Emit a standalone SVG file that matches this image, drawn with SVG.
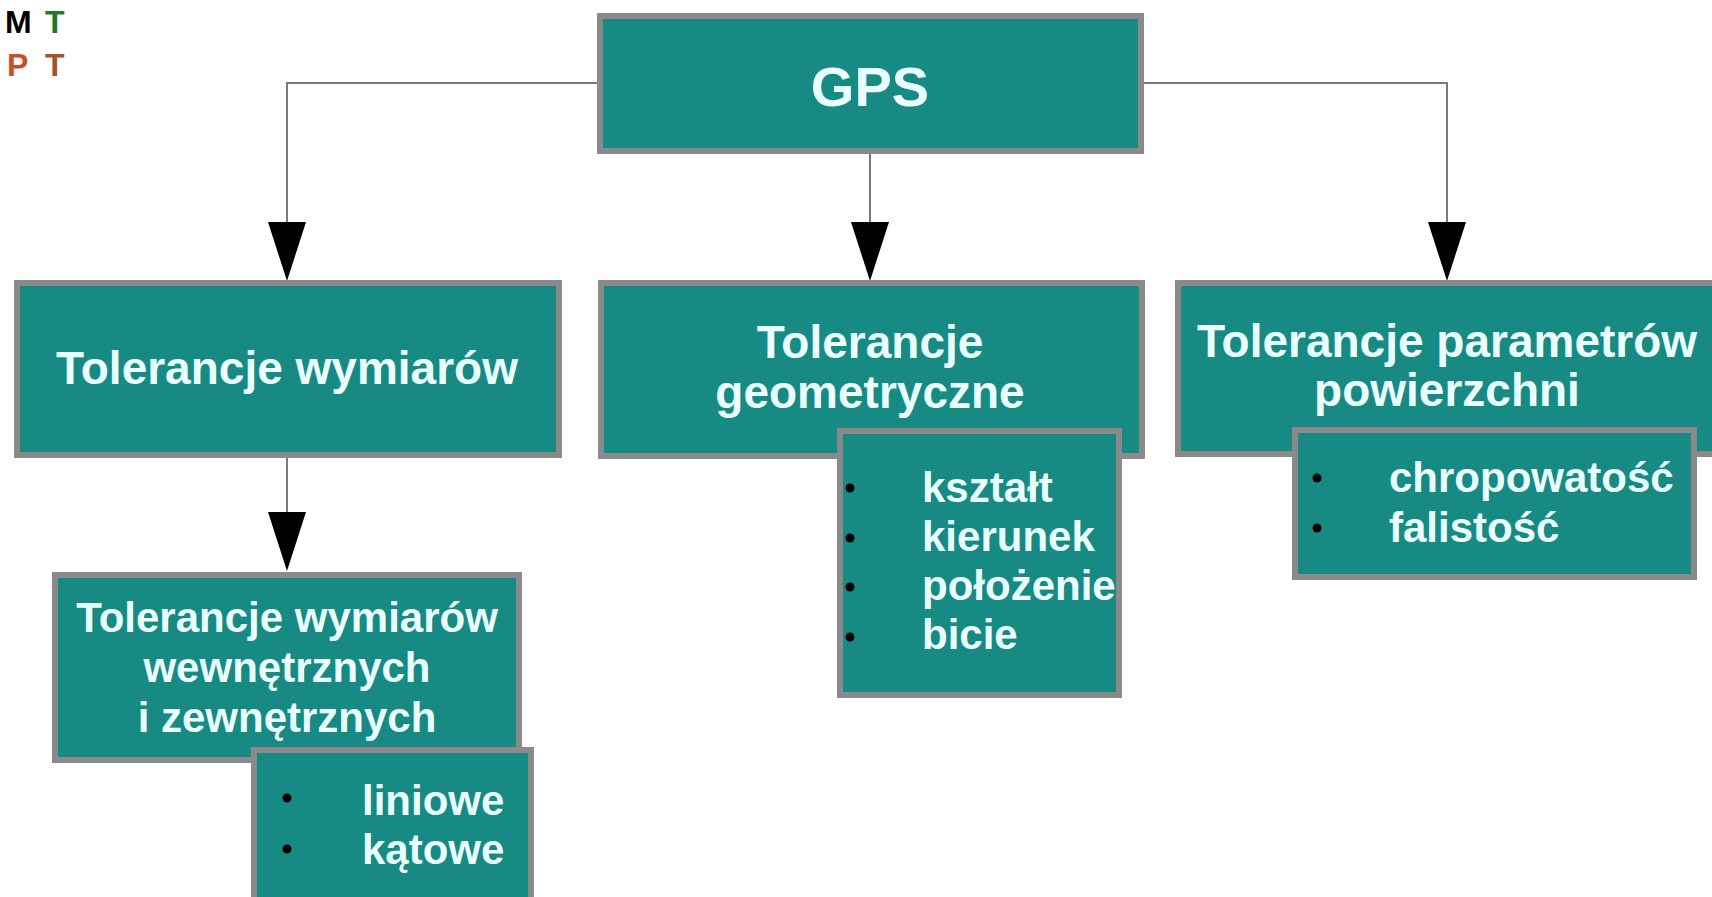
<svg xmlns="http://www.w3.org/2000/svg" width="1712" height="897" viewBox="0 0 1712 897">
<style>
.box{fill:#188a84;stroke:#8a8a8a;stroke-width:6}
.t{font-family:"Liberation Sans",Arial,sans-serif;font-weight:bold;fill:#eaffff}
.c{text-anchor:middle}
.h{font-size:46px}
.s{font-size:42px}
.conn{stroke:#7a7a7a;stroke-width:2;fill:none}
.arr{fill:#000}
.dot{fill:#000}
.logo{font-family:"Liberation Sans",Arial,sans-serif;font-weight:bold;font-size:32px}
</style>
<rect width="1712" height="897" fill="#ffffff"/>
<g id="logo">
<text class="logo" x="5" y="33" fill="#000">M</text>
<text class="logo" x="45" y="33" fill="#1e7a22">T</text>
<text class="logo" x="7" y="76" fill="#c9501f">P</text>
<text class="logo" x="45" y="76" fill="#a5532b">T</text>
</g>
<g id="connectors">
<polyline class="conn" points="287,226 287,83 1447,83 1447,226"/>
<line class="conn" x1="870" y1="154" x2="870" y2="226"/>
<line class="conn" x1="287" y1="458" x2="287" y2="516"/>
<polygon class="arr" points="268,222 306,222 287,281"/>
<polygon class="arr" points="851,222 889,222 870,281"/>
<polygon class="arr" points="1428,222 1466,222 1447,281"/>
<polygon class="arr" points="268,512 306,512 287,571"/>
</g>
<g id="gps">
<rect class="box" x="600" y="16" width="541" height="135"/>
<text class="t c" x="870" y="106" font-size="56">GPS</text>
</g>
<g id="tol-wymiarow">
<rect class="box" x="17" y="283" width="542" height="172"/>
<text class="t c h" x="287" y="384">Tolerancje wymiarów</text>
</g>
<g id="tol-geometryczne">
<rect class="box" x="601" y="283" width="541" height="173"/>
<text class="t c h" x="870" y="358">Tolerancje</text>
<text class="t c h" x="870" y="408">geometryczne</text>
</g>
<g id="tol-powierzchni">
<rect class="box" x="1178" y="283" width="540" height="171"/>
<text class="t c h" x="1447" y="357">Tolerancje parametrów</text>
<text class="t c h" x="1447" y="406">powierzchni</text>
</g>
<g id="geo-list">
<rect class="box" x="840" y="431" width="279" height="264"/>
<circle class="dot" cx="850" cy="488" r="4.5"/>
<circle class="dot" cx="850" cy="538" r="4.5"/>
<circle class="dot" cx="850" cy="587" r="4.5"/>
<circle class="dot" cx="850" cy="637" r="4.5"/>
<text class="t s" x="922" y="502">kształt</text>
<text class="t s" x="922" y="551">kierunek</text>
<text class="t s" x="922" y="600">położenie</text>
<text class="t s" x="922" y="649">bicie</text>
</g>
<g id="pow-list">
<rect class="box" x="1295" y="430" width="399" height="147"/>
<circle class="dot" cx="1317" cy="478" r="4.5"/>
<circle class="dot" cx="1317" cy="528" r="4.5"/>
<text class="t s" x="1389" y="492">chropowatość</text>
<text class="t s" x="1389" y="542">falistość</text>
</g>
<g id="tol-wew-zew">
<rect class="box" x="55" y="575" width="464" height="185"/>
<text class="t c s" x="287" y="632">Tolerancje wymiarów</text>
<text class="t c s" x="287" y="682">wewnętrznych</text>
<text class="t c s" x="287" y="732">i zewnętrznych</text>
</g>
<g id="wym-list">
<rect class="box" x="254" y="750" width="277" height="160"/>
<circle class="dot" cx="287" cy="798" r="4.5"/>
<circle class="dot" cx="287" cy="849" r="4.5"/>
<text class="t s" x="362" y="815">liniowe</text>
<text class="t s" x="362" y="864">kątowe</text>
</g>
</svg>
